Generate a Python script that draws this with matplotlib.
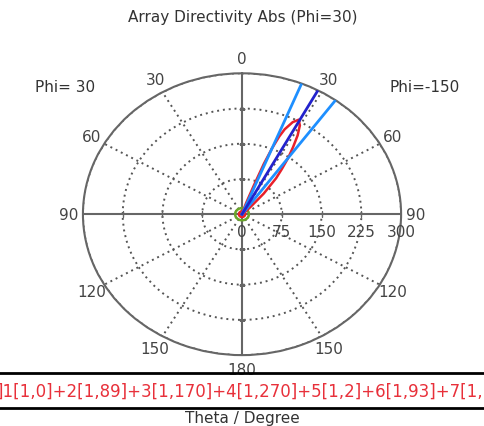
import numpy as np
import matplotlib
matplotlib.use("Agg")
import matplotlib.pyplot as plt
from matplotlib.lines import Line2D

# theta grid labels (left side mirrors the right side)
theta_ticks = [0, 30, 60, 90, 120, 150, 180, 210, 240, 270, 300, 330]
theta_labels = ["0", "30", "60", "90", "120", "150", "180", "150", "120", "90", "60", "30"]
r_ticks = [0, 75, 150, 225, 300]

# array directivity (abs), red curve
red_theta = [0, 10, 15, 18, 20, 21, 22, 23, 24, 26, 28, 30, 32, 34, 36, 38, 40, 43, 46, 50,
             60, 90, 120, 150, 180, 210, 240, 270, 300, 330, 360]
red_r = [6, 6, 8, 25, 65, 115, 152, 180, 198, 218, 228, 218, 198, 172, 148, 122, 100, 60, 22, 8,
         6, 6, 6, 6, 6, 6, 6, 6, 6, 6, 6]

# small green pattern around the origin
green_theta = list(range(0, 361, 15))
green_r = [13] * len(green_theta)

# main lobe direction and 3 dB width
main_dir = 28.5
width_lo = 22
width_hi = 36

fig = plt.figure(figsize=(4.85, 4.27), dpi=100)
ax = fig.add_axes([0.171, 0.166, 0.656, 0.660], projection="polar")
ax.set_aspect("auto")
ax.set_theta_zero_location("N")
ax.set_theta_direction(-1)
ax.set_ylim(0, 300)

grid_col = "#555555"
ax.set_thetagrids(theta_ticks, theta_labels, fontsize=11, color="#444444")
ax.set_rgrids([75, 150, 225, 300], labels=[""] * 4)
ax.grid(True, color=grid_col, linestyle=(0, (1, 2)), linewidth=1.4)
ax.spines["polar"].set_color("#666666")
ax.spines["polar"].set_linewidth(1.5)
ax.tick_params(axis="x", pad=0)

# solid axis lines
for a in [0, 90, 180, 270]:
    ax.plot([np.deg2rad(a), np.deg2rad(a)], [0, 300], color="#666666", lw=1.5, zorder=3)
for r in r_ticks[1:-1]:
    ax.plot(np.deg2rad([90, 270]), [r, r], ls="none", marker="|", ms=5, color="#666666", zorder=3)
    ax.plot(np.deg2rad([0, 180]), [r, r], ls="none", marker="_", ms=5, color="#666666", zorder=3)

for r in r_ticks:
    ax.annotate(str(r), (np.deg2rad(90), r), xytext=(0, -7), textcoords="offset points",
                ha="center", va="top", fontsize=11, color="#444444")

ax.plot(np.deg2rad(green_theta), green_r, color="#6aa52a", lw=1.8, zorder=4)
ax.plot(np.deg2rad(red_theta), red_r, color="#e8202a", lw=1.8, zorder=4)
for a in [width_lo, width_hi]:
    ax.plot([np.deg2rad(a), np.deg2rad(a)], [0, 300], color="#1e8fff", lw=2, zorder=5)
ax.plot([np.deg2rad(main_dir), np.deg2rad(main_dir)], [0, 300], color="#2222cc", lw=2, zorder=5)

fig.text(0.5, 0.958, "Array Directivity Abs (Phi=30)", ha="center", va="center",
         fontsize=11, color="#333333")
fig.text(0.134, 0.796, "Phi= 30", ha="center", va="center", fontsize=11, color="#333333")
fig.text(0.876, 0.796, "Phi=-150", ha="center", va="center", fontsize=11, color="#333333")

for y in [0.124, 0.042]:
    fig.add_artist(Line2D([0, 1], [y, y], color="black", lw=2))
fig.text(-0.008, 0.082, "]1[1,0]+2[1,89]+3[1,170]+4[1,270]+5[1,2]+6[1,93]+7[1,180]",
         ha="left", va="center", fontsize=12, color="#e8303a")
fig.text(0.5, 0.019, "Theta / Degree", ha="center", va="center", fontsize=11, color="#333333")

fig.savefig("out.png", dpi=100)
